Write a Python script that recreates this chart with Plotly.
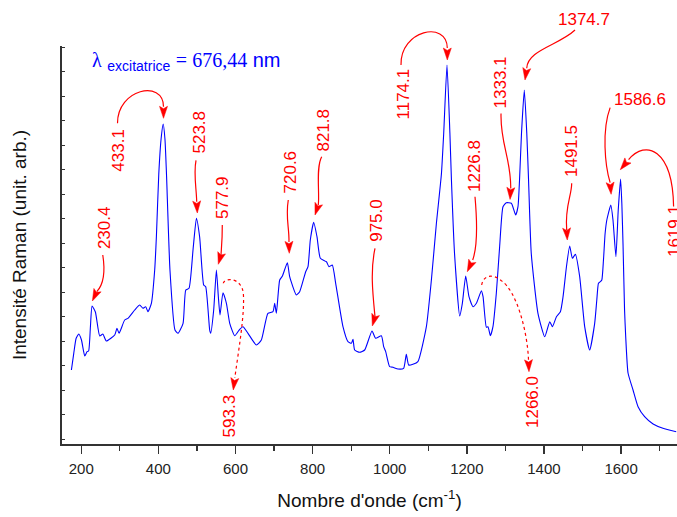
import numpy as np
import plotly.graph_objects as go

# ---------------- data ----------------
wavenumber = [174.4, 180.5, 186.7, 193.6, 200.5, 209, 215, 219, 223.7, 228, 236.6, 247.8, 256, 265,
              286.7, 292.6, 298, 312.6, 321, 338.5, 351.5, 360, 367, 373, 381.8, 390.4, 394.8, 401,
              407, 412.5, 417, 421, 430, 443, 451, 464, 471, 479.4, 490, 498.6, 507, 517.5, 522.7,
              533, 535.6, 543.4, 550.4, 555.5, 559.8, 567.5, 576.4, 585, 598, 610.8, 619.4, 632.4,
              654, 667, 684, 697.2, 701.6, 706, 714.6, 721.6, 734.5, 740.5, 757.9, 766.4, 782, 788,
              794, 802.8, 811.3, 820, 835.7, 842.4, 851, 859.8, 878.7, 891.7, 900.5, 904.7, 909, 922,
              935, 954, 963.5, 978.3, 984.3, 989.5, 999.8, 1008.4, 1021.4, 1036, 1043, 1049, 1060,
              1073, 1095, 1108, 1121, 1134, 1140, 1148.5, 1156, 1160, 1168, 1181.4, 1188.3, 1197,
              1205.5, 1216, 1224.7, 1237.7, 1242, 1250.6, 1254.8, 1261, 1267.7, 1276.4, 1285, 1293.7,
              1302.4, 1315.4, 1326.6, 1332.6, 1336.6, 1341.7, 1349, 1355.4, 1360, 1367, 1384.4, 1402,
              1415, 1422, 1432.3, 1442.6, 1449.5, 1458.3, 1466.7, 1473.7, 1481.5, 1492.6, 1505.6,
              1518.5, 1531.5, 1537, 1541.3, 1546, 1550, 1554.3, 1558.6, 1563, 1573.4, 1579, 1586.6,
              1592.6, 1598.7, 1602, 1605, 1609, 1612, 1618, 1631, 1644, 1661, 1683, 1708.6, 1743]
intensity = [74, 90.7, 105.7, 110, 104, 88, 92.3, 93, 117.3, 138, 132, 108, 110, 103,
             109, 115.7, 110.7, 124, 125.7, 134, 139, 135.7, 137.3, 132.3, 140.7, 174, 207.3, 270,
             305, 320, 305, 270, 174, 114, 110.7, 120.7, 154, 155.7, 195, 225.7, 207, 159, 157.3,
             114, 110.7, 134, 174, 147.3, 129, 151.3, 140.7, 120.7, 108.3, 114.7, 117.3, 110.7,
             99, 104, 130.7, 132.3, 140.7, 130.7, 164, 168, 181.3, 167.3, 149, 152.3, 172.3, 177.3,
             204, 221.7, 207.3, 185.7, 182.3, 177.3, 179, 160.7, 117.3, 102.3, 100.7, 104.7, 94, 91.7,
             94, 113, 105.7, 108.3, 97.3, 92.3, 77.3, 76.7, 75, 75.7, 89.7, 79, 79.7,
             82.3, 117.3, 164, 220.7, 270, 311, 379, 311, 264, 190.7, 128, 140.7, 168,
             147.3, 137.3, 140.7, 153.3, 147.3, 116.7, 117.3, 108.3, 117.3, 150.7, 197.3, 237.3,
             241.3, 240.7, 229, 237.3, 264, 310.7, 354, 310.7, 264, 190.7, 130.7, 107.3,
             122.3, 117.3, 127.3, 132.3, 147.3, 177.3, 198, 185.7, 189.7, 167.3, 117.3,
             94, 120.7, 144, 160.7, 162.3, 164, 184, 210.7, 224, 239, 224, 187.3,
             234, 265, 240, 200, 134, 107, 71, 54, 37.3, 27.3, 20, 15.7, 12.3]

peak_labels = ["230.4", "433.1", "523.8", "577.9", "593.3", "720.6", "821.8", "975.0",
               "1174.1", "1226.8", "1266.0", "1333.1", "1374.7", "1491.5", "1586.6", "1619.1"]
# where each arrow points on the drawn curve (cm-1)
peak_anchor = [228, 412.5, 498.6, 550.4, 567.5, 734.5, 802.8, 954,
               1148.5, 1197, 1237.7, 1312, 1349, 1466.7, 1573.4, 1598.7]

x_ticks = [200, 400, 600, 800, 1000, 1200, 1400, 1600]

# ---------------- geometry / style of the annotations (pixel offsets, up = +) ----------------
geom = {
    "230.4": dict(lab=(12, 78), rot=True, path=[(10.7, 51), (14, 30), (10, 20), (4.7, 14.3)], tip=(0.3, 5)),
    "433.1": dict(lab=(-45, -26.5), rot=True, path=[(-45.7, 0.7), (-46, 35), (0, 45), (0.3, 17.3)], tip=(0.3, 5.7)),
    "523.8": dict(lab=(2.6, 85.8), rot=True, path=[(-0.4, 58), (-3, 45), (0, 30), (0.3, 16.6)], tip=(0.9, 5.3)),
    "577.9": dict(lab=(6.1, 72.5), rot=True, path=[(5.9, 45), (6, 30), (5, 22), (4.6, 15)], tip=(1.9, 5.7)),
    "593.3": dict(lab=(6.7, -123), rot=True, path=[(0.3, 9.4), (1, 15), (18, 16), (20.3, 0),
                                                   (22, -20), (16, -55), (11.8, -85.3)], tip=(10.3, -97.3), dot=True),
    "720.6": dict(lab=(3.4, 91), rot=True, path=[(0.9, 62.7), (-2, 45), (2, 35), (1.6, 20.7)], tip=(1.9, 9.4)),
    "821.8": dict(lab=(8.8, 92.3), rot=True, path=[(8, 65.6), (2, 55), (6, 30), (4.6, 17.3)], tip=(1.3, 7.3)),
    "975.0": dict(lab=(3.8, 111), rot=True, path=[(3, 82.7), (-2, 60), (1, 35), (3, 14.3)], tip=(0.3, 5)),
    "1174.1": dict(lab=(-44.5, -29), rot=True, path=[(-46, 0), (-47, 35), (0, 45), (0.3, 17)], tip=(0.3, 5)),
    "1226.8": dict(lab=(8.3, 110), rot=True, path=[(9.3, 79.3), (11, 60), (12, 30), (7, 16)], tip=(1.6, 4.3)),
    "1266.0": dict(lab=(51.1, -111.8), rot=True, path=[(0.3, 5.7), (2, 16), (12, 17), (20, 10),
                                                       (35, 0), (46, -40), (47.1, -69.3)], tip=(47.6, -81), dot=True),
    "1333.1": dict(lab=(-9.2, 120.5), rot=True, path=[(-9, 89.7), (-10, 60), (1, 45), (0.7, 14.7)], tip=(0, 3.7)),
    "1374.7": dict(lab=(59.7, 71), rot=False, path=[(50.7, 60), (35, 45), (3, 40), (2.4, 21.7)], tip=(0.7, 10)),
    "1491.5": dict(lab=(1.3, 95), rot=True, path=[(2, 62.7), (2, 50), (-5, 40), (-3, 16)], tip=(-2.4, 6)),
    "1586.6": dict(lab=(29.3, 105.2), rot=False, path=[(-0.7, 97.4), (-9, 75), (-6, 40), (-0.7, 22.4)], tip=(0.3, 10.7)),
    "1619.1": dict(lab=(53.7, -51.7), rot=True, path=[(53, -27.4), (52, 30), (25, 40), (8, 19.3)], tip=(-0.3, 9.3)),
}

XR = [150, 1745]
YR = [0, 398]
RED = "#FF0000"
BLUE = "#0000FF"
FONT = "Liberation Sans, Arial, sans-serif"

fig = go.Figure()
fig.add_trace(go.Scatter(x=wavenumber, y=intensity, mode="lines",
                         line=dict(color=BLUE, width=1.1, shape="spline", smoothing=0.5),
                         hoverinfo="skip", showlegend=False))

anchor_y = np.interp(peak_anchor, wavenumber, intensity)


def fmt(p):
    return f"{p[0]:.2f},{p[1]:.2f}"


shapes = []
annotations = []
for lab, ax_x, ax_y in zip(peak_labels, peak_anchor, anchor_y):
    g = geom[lab]
    xp = (ax_x - XR[0]) / (XR[1] - XR[0])
    yp = (ax_y - YR[0]) / (YR[1] - YR[0])
    pts = g["path"]
    d = "M " + fmt(pts[0])
    for i in range(1, len(pts) - 2, 3):
        d += " C " + fmt(pts[i]) + " " + fmt(pts[i + 1]) + " " + fmt(pts[i + 2])
    shapes.append(dict(type="path", xref="paper", yref="paper", xsizemode="pixel", ysizemode="pixel",
                       xanchor=xp, yanchor=yp, path=d,
                       line=dict(color=RED, width=1.2, dash="dot" if g.get("dot") else "solid")))
    # arrow head
    bx, by = pts[-1]
    tx, ty = g["tip"]
    vx, vy = tx - bx, ty - by
    L = (vx ** 2 + vy ** 2) ** 0.5
    ux, uy = vx / L, vy / L
    nx, ny = -uy, ux
    hl = 12.0
    hw = 4.0
    b2 = (tx - ux * hl, ty - uy * hl)
    p1 = (b2[0] + nx * hw, b2[1] + ny * hw)
    p2 = (b2[0] - nx * hw, b2[1] - ny * hw)
    notch = (tx - ux * hl * 0.8, ty - uy * hl * 0.8)
    shapes.append(dict(type="path", xref="paper", yref="paper", xsizemode="pixel", ysizemode="pixel",
                       xanchor=xp, yanchor=yp,
                       path="M " + fmt((tx, ty)) + " L " + fmt(p1) + " L " + fmt(notch) + " L " + fmt(p2) + " Z",
                       fillcolor=RED, line=dict(color=RED, width=0.5)))
    annotations.append(dict(x=ax_x, y=ax_y, xref="x", yref="y", text=lab, showarrow=False,
                            xshift=g["lab"][0], yshift=g["lab"][1],
                            textangle=-90 if g["rot"] else 0,
                            xanchor="center", yanchor="middle",
                            font=dict(family=FONT, size=17, color=RED)))

annotations.append(dict(
    x=0.045, y=0.962, xref="paper", yref="paper", xanchor="left", yanchor="middle", showarrow=False,
    text="<span style=\"font-family:'Liberation Serif'\">λ</span> <sub>excitatrice</sub> "
         "<span style=\"font-family:'Liberation Serif'\">= 676,44</span> nm",
    font=dict(family=FONT, size=20, color=BLUE)))

fig.update_layout(
    width=677, height=517,
    margin=dict(l=62, r=0, t=46, b=73, autoexpand=False),
    paper_bgcolor="white", plot_bgcolor="white",
    shapes=shapes, annotations=annotations,
    showlegend=False,
    xaxis=dict(range=XR, showgrid=False, zeroline=False, automargin=False,
               showline=True, linecolor="#333333", linewidth=2,
               tickmode="array", tickvals=x_ticks, ticktext=[str(v) for v in x_ticks],
               ticks="outside", ticklen=8, tickwidth=1.3, tickcolor="#333333",
               minor=dict(tickmode="linear", tick0=100, dtick=100, ticks="outside", ticklen=5,
                          tickwidth=1.3, tickcolor="#333333"),
               ticklabelstandoff=2,
               tickfont=dict(family=FONT, size=15, color="#222222"),
               title=dict(text="Nombre d'onde (cm<sup>-1</sup>)", standoff=18,
                          font=dict(family=FONT, size=19, color="#111111"))),
    yaxis=dict(range=YR, showgrid=False, zeroline=False, automargin=False,
               showline=True, linecolor="#333333", linewidth=2,
               tickmode="linear", tick0=4.7, dtick=24.5, ticks="inside", ticklen=3, tickwidth=1.3,
               tickcolor="#333333", showticklabels=False,
               title=dict(text="Intensité Raman (unit. arb.)", standoff=28,
                          font=dict(family=FONT, size=19, color="#111111"))),
)

fig.write_html("out.html", config={"displayModeBar": False, "staticPlot": True},
               post_script="document.body.style.margin='0px';document.body.style.overflow='hidden';")
